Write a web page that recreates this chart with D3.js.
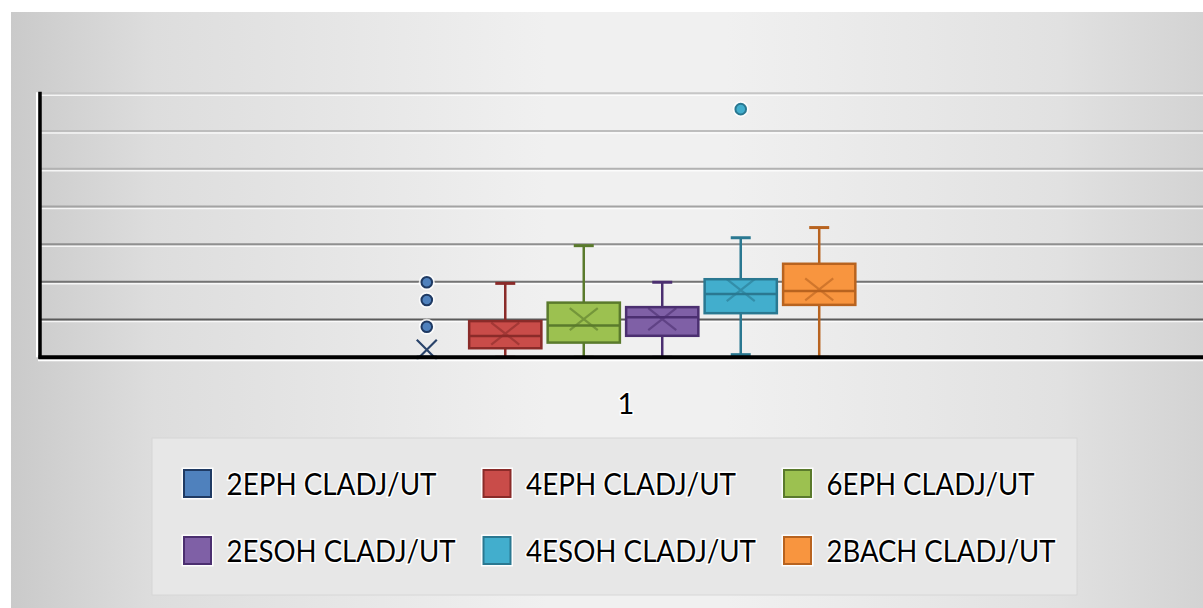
<!DOCTYPE html>
<html>
<head>
<meta charset="utf-8">
<script src="https://cdn.jsdelivr.net/npm/d3@7/dist/d3.min.js"></script>
<style>
  html, body { margin: 0; padding: 0; background: #ffffff; }
  svg { display: block; }
</style>
</head>
<body>
<svg id="chart" width="1203" height="608"></svg>
<script>
// ---- data ----
const categories = ["1"];
const seriesNames = ["2EPH CLADJ/UT", "4EPH CLADJ/UT", "6EPH CLADJ/UT", "2ESOH CLADJ/UT", "4ESOH CLADJ/UT", "2BACH CLADJ/UT"];
const minValues    = [0,    0,    0,    0,    0.07, 0   ];
const q1Values     = [0,    0.24, 0.39, 0.57, 1.17, 1.39];
const medianValues = [0,    0.565,0.84, 1.06, 1.68, 1.76];
const q3Values     = [0,    0.96, 1.45, 1.33, 2.07, 2.48];
const maxValues    = [0,    1.96, 2.96, 1.99, 3.17, 3.44];
const meanValues   = [0.2,  0.63, 1.01, 1.01, 1.78, 1.80];
const outlierValues = [[0.81, 1.52, 1.99], [], [], [], [6.58], []];
const yTicks = [0, 1, 2, 3, 4, 5, 6, 7];

const fills   = ["#4f81bd", "#c94c49", "#9cc150", "#7f60a6", "#42aecd", "#f8953f"];
const strokes = ["#1f3a63", "#8a2b29", "#5a7a2c", "#4b2f70", "#2a7891", "#b8631f"];

const svg = d3.select("#chart");
const W = 1203, H = 608;

// background
const defs = svg.append("defs");
const g0 = defs.append("linearGradient").attr("id", "bg").attr("x1", 0).attr("x2", 1).attr("y1", 0).attr("y2", 0);
[["0%", "#cacaca"], ["12%", "#dddddd"], ["45%", "#f0f0f0"], ["60%", "#f0f0f0"], ["88%", "#e1e1e1"], ["100%", "#d3d3d3"]]
  .forEach(([o, c]) => g0.append("stop").attr("offset", o).attr("stop-color", c));
svg.append("rect").attr("x", 0).attr("y", 0).attr("width", W).attr("height", H).attr("fill", "#ffffff");
svg.append("rect").attr("x", 11).attr("y", 12).attr("width", W - 11).attr("height", H - 12).attr("fill", "url(#bg)");

// scales
const plotLeft = 40, plotRight = 1206;
const y = d3.scaleLinear().domain([0, 7]).range([357.3, 93.3]);
const x0 = d3.scaleBand().domain(categories).range([plotLeft, plotRight]).paddingInner(0).paddingOuter(0.738);
const x1 = d3.scaleBand().domain(seriesNames).range([0, x0.bandwidth()]).paddingInner(0.08).paddingOuter(0.04);

// gridlines
const gridColors = ["#c6c6c6", "#bdbdbd", "#b2b2b2", "#a3a3a3", "#8f8f8f", "#747474", "#5a5a5a"];
const grid = svg.append("g");
yTicks.filter(t => t > 0).forEach(t => {
  const yy = y(t);
  grid.append("line").attr("x1", plotLeft).attr("x2", W).attr("y1", yy + 2).attr("y2", yy + 2)
    .attr("stroke", "#ffffff").attr("stroke-width", 1.5).attr("opacity", 0.8);
  grid.append("line").attr("x1", plotLeft).attr("x2", W).attr("y1", yy).attr("y2", yy)
    .attr("stroke", gridColors[7 - t]).attr("stroke-width", 2);
});

// boxes
const gx = x0(categories[0]);
const boxes = svg.append("g");
seriesNames.forEach((s, i) => {
  const left = gx + x1(s);
  const bw = x1.bandwidth();
  const cx = left + bw / 2;
  const g = boxes.append("g");
  const capW = 20;
  // whiskers
  g.append("line").attr("x1", cx).attr("x2", cx).attr("y1", y(maxValues[i])).attr("y2", y(q3Values[i]))
    .attr("stroke", strokes[i]).attr("stroke-width", 2.5);
  g.append("line").attr("x1", cx).attr("x2", cx).attr("y1", y(q1Values[i])).attr("y2", y(minValues[i]))
    .attr("stroke", strokes[i]).attr("stroke-width", 2.5);
  [maxValues[i], minValues[i]].forEach(v => {
    g.append("line").attr("x1", cx - capW / 2).attr("x2", cx + capW / 2).attr("y1", y(v)).attr("y2", y(v))
      .attr("stroke", strokes[i]).attr("stroke-width", 3);
  });
  // box
  g.append("rect").attr("x", left).attr("width", bw)
    .attr("y", y(q3Values[i])).attr("height", y(q1Values[i]) - y(q3Values[i]))
    .attr("fill", fills[i]).attr("stroke", strokes[i]).attr("stroke-width", 2.5);
  // median
  g.append("line").attr("x1", left).attr("x2", left + bw).attr("y1", y(medianValues[i])).attr("y2", y(medianValues[i]))
    .attr("stroke", strokes[i]).attr("stroke-width", 2.5);
  // mean X
  const my = y(meanValues[i]);
  const hx = i === 0 ? 10 : 14, hy = i === 0 ? 10 : 11;
  g.append("path").attr("d", `M${cx - hx},${my - hy}L${cx + hx},${my + hy}M${cx - hx},${my + hy}L${cx + hx},${my - hy}`)
    .attr("stroke", strokes[i]).attr("stroke-width", 2.2).attr("fill", "none").attr("opacity", i === 0 ? 0.95 : 0.6);
  // outliers
  outlierValues[i].forEach(v => {
    g.append("circle").attr("cx", cx).attr("cy", y(v)).attr("r", 8).attr("fill", "#ffffff").attr("opacity", 0.8);
    g.append("circle").attr("cx", cx).attr("cy", y(v)).attr("r", 5.3).attr("fill", fills[i])
      .attr("stroke", strokes[i]).attr("stroke-width", 2);
  });
});

// axes
const axes = svg.append("g");
axes.append("line").attr("x1", plotLeft - 2).attr("x2", W).attr("y1", y(0) + 3).attr("y2", y(0) + 3)
  .attr("stroke", "#ffffff").attr("stroke-width", 2);
axes.append("line").attr("x1", plotLeft - 3).attr("x2", plotLeft - 3).attr("y1", y(7) - 1).attr("y2", y(0))
  .attr("stroke", "#ffffff").attr("stroke-width", 2);
axes.append("line").attr("x1", plotLeft).attr("x2", plotLeft).attr("y1", y(7) - 1.5).attr("y2", y(0) + 1.5)
  .attr("stroke", "#000000").attr("stroke-width", 3.5);
axes.append("line").attr("x1", plotLeft - 1.5).attr("x2", W).attr("y1", y(0)).attr("y2", y(0))
  .attr("stroke", "#000000").attr("stroke-width", 4);

// category label
const xAxis = d3.axisBottom(x0).tickSize(0).tickPadding(0);
const xg = svg.append("g").attr("transform", `translate(0,${y(0)})`).call(xAxis);
xg.select(".domain").remove();
xg.selectAll("text")
  .attr("y", 57).attr("dy", 0).attr("dx", 3)
  .attr("font-family", "Lato, 'Open Sans', sans-serif").attr("font-size", 29)
  .attr("fill", "#000").attr("stroke", "#ffffff").attr("stroke-width", 3).attr("paint-order", "stroke");

// legend
const leg = svg.append("g");
leg.append("rect").attr("x", 152).attr("y", 438).attr("width", 925).attr("height", 157)
  .attr("fill", "#e7e7e7").attr("stroke", "#d6d6d6").attr("stroke-width", 1);
const colX = [183, 482.5, 783];
const rowY = [469, 536];
const textW = [210, 210, 208, 229, 230, 229];
seriesNames.forEach((s, i) => {
  const c = i % 3, r = Math.floor(i / 3);
  leg.append("rect").attr("x", colX[c] - 1.5).attr("y", rowY[r] - 1.5).attr("width", 32).attr("height", 32)
    .attr("fill", "#ffffff").attr("opacity", 0.9);
  leg.append("rect").attr("x", colX[c] + 1).attr("y", rowY[r] + 1).attr("width", 27).attr("height", 27)
    .attr("fill", fills[i]).attr("stroke", strokes[i]).attr("stroke-width", 2);
  leg.append("text").attr("x", colX[c] + 43.5).attr("y", rowY[r] + 26)
    .attr("font-family", "Lato, 'Open Sans', sans-serif").attr("font-size", 30)
    .attr("textLength", textW[i]).attr("lengthAdjust", "spacingAndGlyphs")
    .attr("fill", "#000").attr("stroke", "#ffffff").attr("stroke-width", 3).attr("paint-order", "stroke")
    .text(s);
});
</script>
</body>
</html>
